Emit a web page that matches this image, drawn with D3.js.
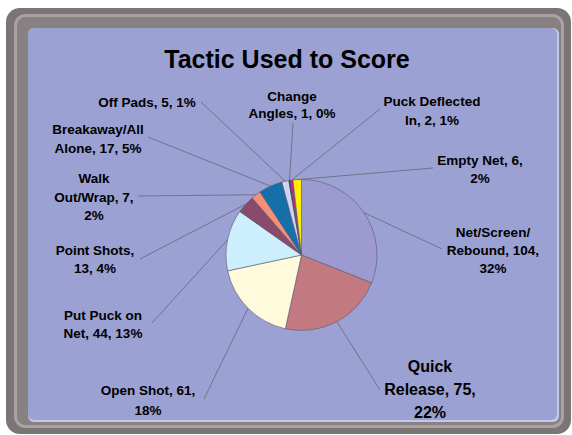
<!DOCTYPE html>
<html><head><meta charset="utf-8">
<script src="https://cdn.jsdelivr.net/npm/d3@7"></script>
<style>html,body{margin:0;padding:0;background:#fff;}svg{display:block;}</style>
</head><body>
<script>
// ---- data ----
const categories = ["Net/Screen/Rebound","Quick Release","Open Shot","Put Puck on Net","Point Shots","Walk Out/Wrap","Breakaway/All Alone","Off Pads","Change Angles","Puck Deflected In","Empty Net"];
const values = [104, 75, 61, 44, 13, 7, 17, 5, 1, 2, 6];
const percentLabels = ["32%","22%","18%","13%","4%","2%","5%","1%","0%","1%","2%"];
const colors = ["#9c9ad0","#c27a80","#fffadc","#cdeefc","#8a4a6c","#f4907a","#1570aa","#d2d2f2","#1a1a70","#d4207e","#fff000"];
const title = "Tactic Used to Score";

// ---- label layout (text lines are built from the data) ----
const labelLayout = [
  {breaks:[["Net/Screen/"],["Rebound,","V,"],["P"]], cx:493, y:237, lh:18, fs:13.5, ax:442, ay:249},
  {breaks:[["Quick"],["Release,","V,"],["P"]], cx:430, y:372, lh:23, fs:16, ax:380, ay:390},
  {breaks:[["Open Shot,","V,"],["P"]], cx:148, y:395, lh:20, fs:13.5, ax:204, ay:399},
  {breaks:[["Put Puck on"],["Net,","V,","P"]], cx:103, y:320, lh:18, fs:13.5, ax:152, ay:323},
  {breaks:[["Point Shots,"],["V,","P"]], cx:95, y:255, lh:18, fs:13.5, ax:140, ay:259},
  {breaks:[["Walk"],["Out/Wrap,","V,"],["P"]], cx:94, y:183, lh:18.5, fs:13.5, ax:138, ay:196},
  {breaks:[["Breakaway/All"],["Alone,","V,","P"]], cx:98, y:134, lh:19, fs:13.5, ax:148, ay:137},
  {breaks:[["Off Pads,","V,","P"]], cx:147, y:107, lh:18, fs:13.5, ax:201, ay:102},
  {breaks:[["Change"],["Angles,","V,","P"]], cx:292, y:101, lh:17, fs:13.5, ax:293, ay:123},
  {breaks:[["Puck Deflected"],["In,","V,","P"]], cx:432, y:106, lh:19, fs:13.5, ax:380, ay:109},
  {breaks:[["Empty Net,","V,"],["P"]], cx:480, y:165, lh:18, fs:13.5, ax:433, ay:168}
];

const W = 572, H = 435;
const svg = d3.select("body").append("svg").attr("width", W).attr("height", H);

// frame
svg.append("rect").attr("x",6).attr("y",8).attr("width",565).attr("height",426).attr("rx",14).attr("fill","#7b7575");
svg.append("rect").attr("x",15.5).attr("y",15.5).attr("width",547).attr("height",411).attr("rx",10)
  .attr("fill","#878181").attr("stroke","#aaa2a2").attr("stroke-width",3);
svg.append("rect").attr("x",28).attr("y",28).attr("width",531).attr("height",394).attr("rx",6).attr("fill","#c4c8ea");
svg.append("rect").attr("x",28).attr("y",28).attr("width",529).attr("height",392).attr("rx",6).attr("fill","#9ba1d3");

// title
svg.append("text").attr("x",287).attr("y",68).attr("text-anchor","middle")
  .attr("font-family","Liberation Sans, Arial, sans-serif").attr("font-weight","bold").attr("font-size",25)
  .attr("fill","#000").text(title);

// pie
const cx = 301.5, cy = 255, R = 75.5;
const pie = d3.pie().sort(null).value(d => d)(values);
const arc = d3.arc().innerRadius(0).outerRadius(R);
const g = svg.append("g").attr("transform", `translate(${cx},${cy})`);
g.selectAll("path").data(pie).join("path")
  .attr("d", arc).attr("fill", (d,i) => colors[i])
  .attr("stroke","#5a5a72").attr("stroke-width",0.6);

// leader lines
const font = "Liberation Sans, Arial, sans-serif";
pie.forEach((d,i) => {
  const L = labelLayout[i];
  const a = (d.startAngle + d.endAngle)/2;
  const px = cx + R*Math.sin(a), py = cy - R*Math.cos(a);
  svg.append("line").attr("x1",L.ax).attr("y1",L.ay).attr("x2",px).attr("y2",py)
    .attr("stroke","#6c6c82").attr("stroke-width",0.9);
});

// labels
labelLayout.forEach((L,i) => {
  const lines = L.breaks.map(parts => parts.map(p => p === "V," ? values[i] + "," : p === "P" ? percentLabels[i] : p).join(" "));
  const t = svg.append("text").attr("text-anchor","middle").attr("font-family",font)
    .attr("font-weight","bold").attr("font-size",L.fs).attr("fill","#000");
  lines.forEach((ln,k) => t.append("tspan").attr("x",L.cx).attr("y",L.y + k*L.lh).text(ln));
});
</script>
</body></html>
